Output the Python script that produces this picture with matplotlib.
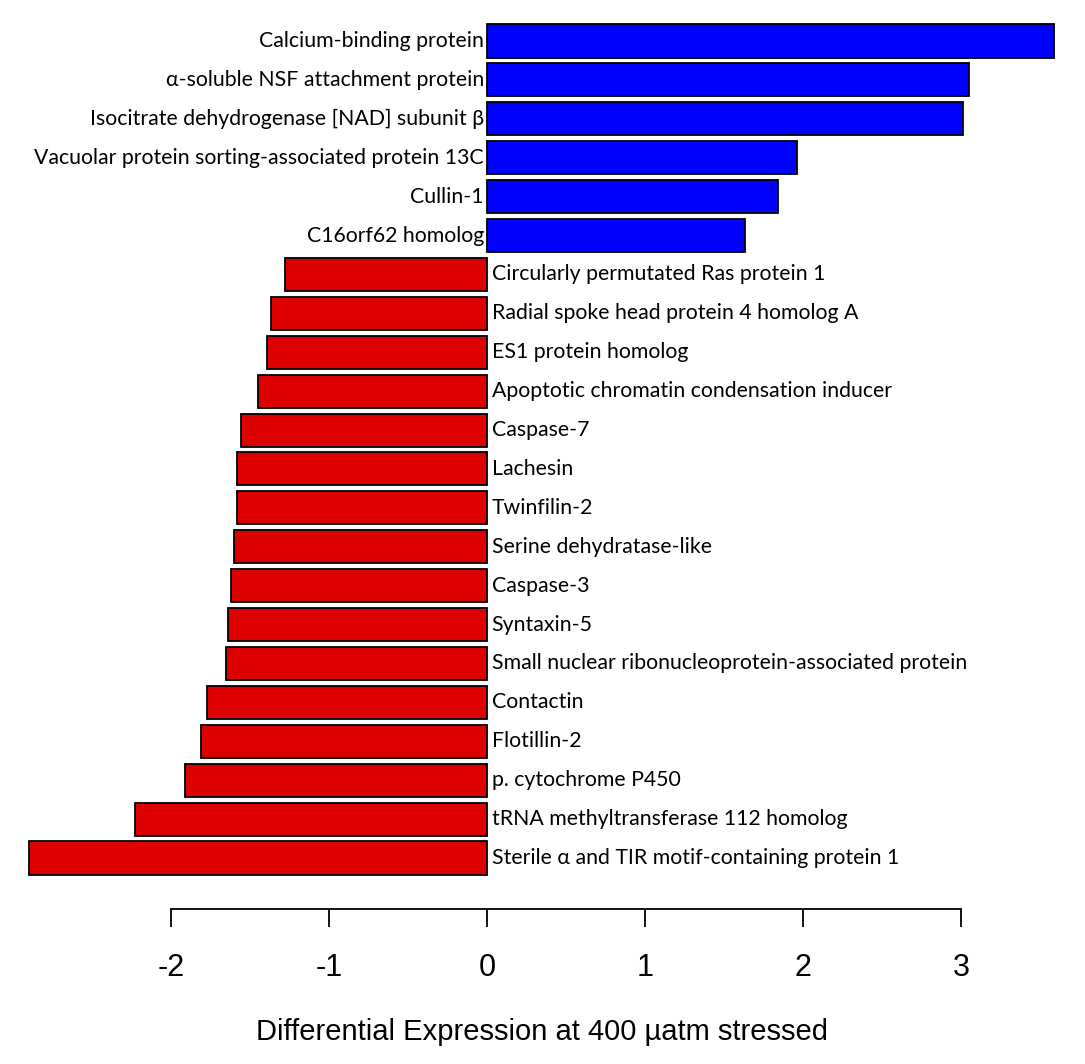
import numpy as np
import matplotlib.pyplot as plt
from matplotlib import rcParams

rcParams['font.family'] = 'sans-serif'
rcParams['font.sans-serif'] = ['Liberation Sans', 'DejaVu Sans']
rcParams['axes.unicode_minus'] = False

# proteins top to bottom
proteins = [
    'Calcium-binding protein',
    'α-soluble NSF attachment protein',
    'Isocitrate dehydrogenase [NAD] subunit β',
    'Vacuolar protein sorting-associated protein 13C',
    'Cullin-1',
    'C16orf62 homolog',
    'Circularly permutated Ras protein 1',
    'Radial spoke head protein 4 homolog A',
    'ES1 protein homolog',
    'Apoptotic chromatin condensation inducer',
    'Caspase-7',
    'Lachesin',
    'Twinfilin-2',
    'Serine dehydratase-like',
    'Caspase-3',
    'Syntaxin-5',
    'Small nuclear ribonucleoprotein-associated protein',
    'Contactin',
    'Flotillin-2',
    'p. cytochrome P450',
    'tRNA methyltransferase 112 homolog',
    'Sterile α and TIR motif-containing protein 1',
]
diff_expr = [3.59, 3.05, 3.01, 1.96, 1.84, 1.63,
             -1.28, -1.37, -1.39, -1.45, -1.56, -1.58, -1.58, -1.60,
             -1.62, -1.64, -1.65, -1.77, -1.81, -1.91, -2.23, -2.90]
xticks = [-2, -1, 0, 1, 2, 3]

C_UP = '#0000FF'
C_DOWN = '#DD0000'

W, H = 1085, 1064
fig = plt.figure(figsize=(W/100, H/100), dpi=100)
# pixel layout: x=0 at 487 px, 158 px per unit; bar centres 41..858 px
x0, xs = 487, 158.0
xmin, xmax = -3.0, 3.7
ymin, ymax = -0.7, 21.7
yc0, ystep = 41, (858 - 41)/21
left = (x0 + xs*xmin)/W
width = xs*(xmax - xmin)/W
top_px = yc0 + ystep*ymin
bot_px = yc0 + ystep*ymax
ax = fig.add_axes([left, 1 - bot_px/H, width, (bot_px - top_px)/H])

ypos = np.arange(len(proteins))
vals = np.array(diff_expr)
colors = [C_UP if v > 0 else C_DOWN for v in vals]
ax.barh(ypos, vals, height=0.85, color=colors, edgecolor='black', linewidth=1.3)

for y, v, name in zip(ypos, vals, proteins):
    if v > 0:
        ax.text(-0.02, y, name, ha='right', va='center', fontsize=15.3,
                family='Lato')
    else:
        ax.text(0.03, y, name, ha='left', va='center', fontsize=15.3,
                family='Lato')

ax.set_xlim(xmin, xmax)
ax.set_ylim(ymax, ymin)
for s in ['top', 'right', 'left']:
    ax.spines[s].set_visible(False)
ax.spines['bottom'].set_position(('outward', 17))
ax.spines['bottom'].set_bounds(-2, 3)
ax.spines['bottom'].set_linewidth(1.3)
ax.set_yticks([])
ax.set_xticks(xticks)
ax.set_xticklabels([str(t) for t in xticks])
ax.tick_params(axis='x', length=13, width=1.3, labelsize=22, pad=19)
ax.set_xlabel('Differential Expression at 400 µatm stressed', fontsize=21,
              labelpad=25)

fig.savefig('out.png', dpi=100)
